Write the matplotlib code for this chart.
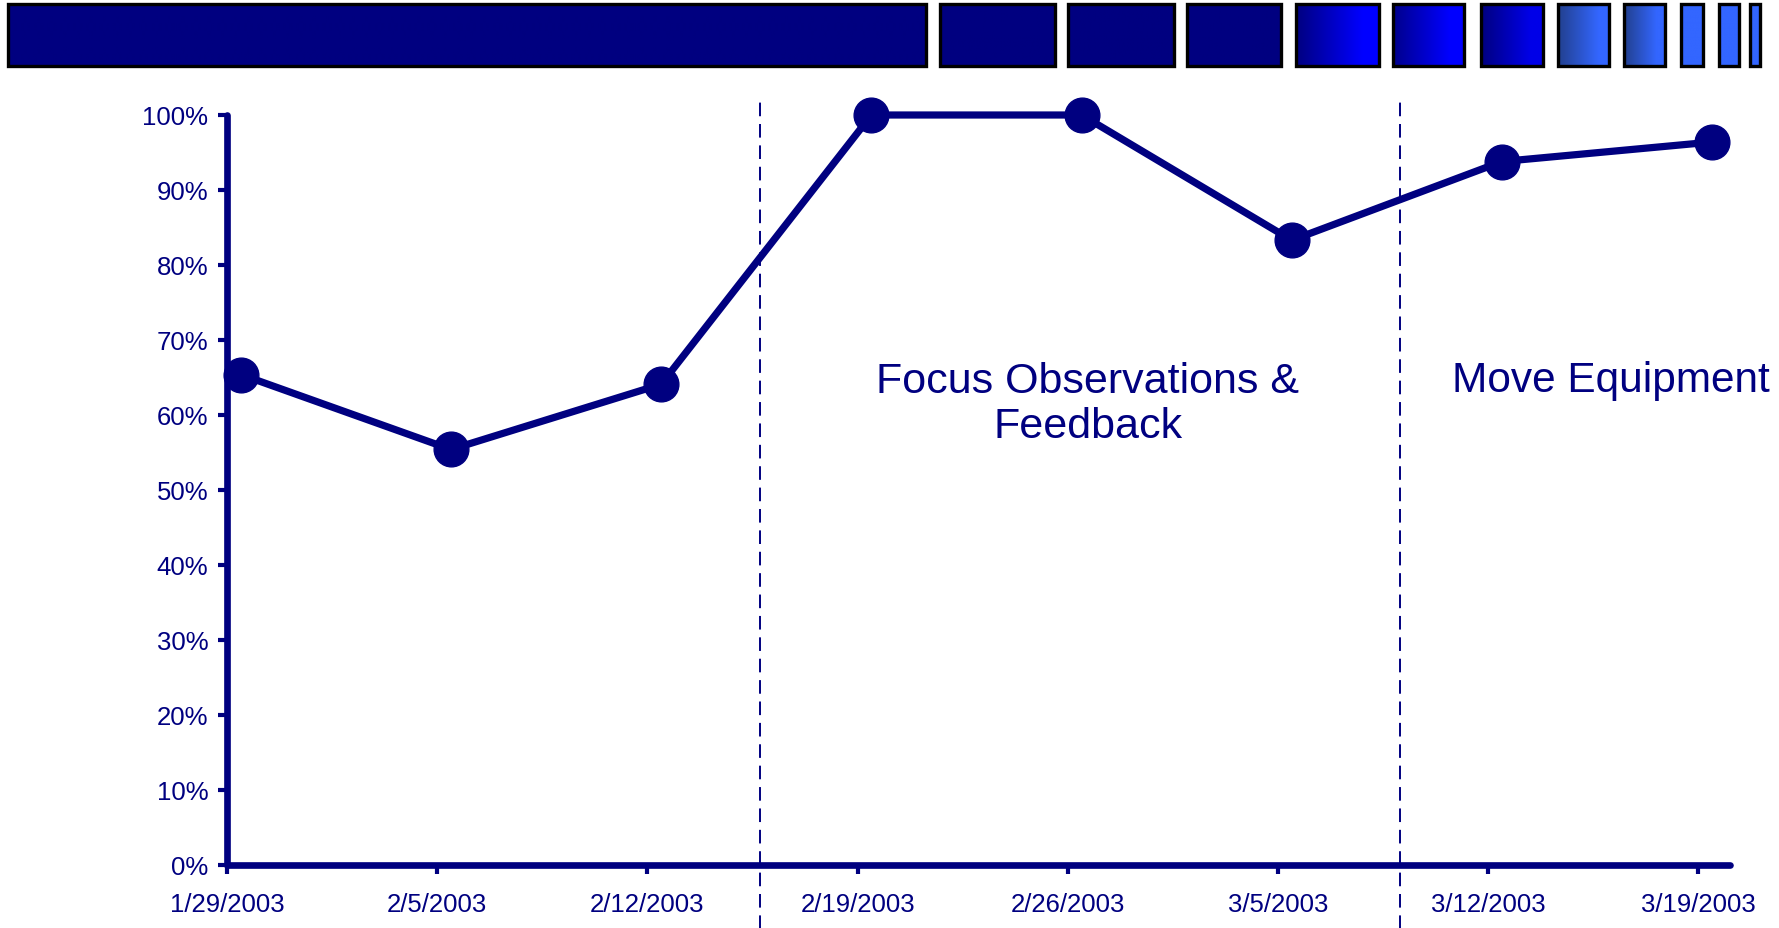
import numpy as np
import pandas as pd
import matplotlib
matplotlib.use("Agg")
import matplotlib.pyplot as plt
from matplotlib.patches import Rectangle
from matplotlib.colors import to_rgb

plt.rcParams['font.family'] = ['Liberation Sans', 'DejaVu Sans']

# weekly observation dates and % compliance
week_dates = ["1/29/2003", "2/5/2003", "2/12/2003", "2/19/2003",
              "2/26/2003", "3/5/2003", "3/12/2003", "3/19/2003"]
compliance = [0.654, 0.554, 0.641, 1.0, 1.0, 0.833, 0.938, 0.964]
obs_hour = 11  # points sit slightly right of the date ticks

# interventions
phase_starts = ["2003-02-15 18:00", "2003-03-09 01:30"]
phase_labels = ["Focus Observations &\nFeedback", "Move Equipment"]

y_ticks = [0, 0.1, 0.2, 0.3, 0.4, 0.5, 0.6, 0.7, 0.8, 0.9, 1.0]

NAVY = "#000080"
W, H = 1779, 929

base = pd.Timestamp("2003-01-29")
tick_x = ((pd.to_datetime(week_dates, format="%m/%d/%Y") - base) / pd.Timedelta(days=1)).to_numpy()
pt_x = tick_x + obs_hour / 24
phase_x = ((pd.to_datetime(phase_starts) - base) / pd.Timedelta(days=1)).to_numpy()

fig = plt.figure(figsize=(W / 100, H / 100), dpi=100)

# ---- banner of boxes at the top
bx = fig.add_axes([0, 0, 1, 1], zorder=-1)
bx.axis("off")
boxes = [(8, 926, NAVY, NAVY), (940, 1055, NAVY, NAVY), (1068, 1174, NAVY, NAVY),
         (1187, 1281, NAVY, NAVY), (1296, 1379, NAVY, "#0000ff"),
         (1393, 1464, "#00008c", "#0000ff"), (1481, 1543, NAVY, "#0000e8"),
         (1558, 1609, "#22408e", "#3366ff"), (1624, 1665, "#22408e", "#3366ff"),
         (1681, 1703, "#3366ff", "#3366ff"), (1719, 1739, "#3366ff", "#3366ff"),
         (1750, 1760, "#3366ff", "#3366ff")]
by0, by1 = 5, 67
t = np.clip(np.linspace(0, 1, 128) / 0.8, 0, 1)
for x0, x1, c0, c1 in boxes:
    a, b = np.array(to_rgb(c0)), np.array(to_rgb(c1))
    grad = (a[None, :] * (1 - t[:, None]) + b[None, :] * t[:, None])[None, :, :]
    bx.imshow(grad, extent=(x0, x1, by1, by0), aspect="auto", interpolation="bilinear")
    bx.add_patch(Rectangle((x0, by0), x1 - x0, by1 - by0, fill=False,
                           edgecolor="black", linewidth=2.4))
bx.set_xlim(0, W)
bx.set_ylim(H, 0)

# ---- main chart
ax = fig.add_axes([227 / W, 63 / H, (1730 - 227) / W, 750 / H])
ax.set_xlim(0, 50.05)
ax.set_ylim(0, 1)

for x in phase_x:
    ax.plot([x, x], [-0.09, 1.018], color=NAVY, lw=1.4, ls=(0, (7, 4)),
            clip_on=False, zorder=1)

ax.plot(pt_x, compliance, color=NAVY, lw=5.2, marker="o", markersize=25,
        clip_on=False, zorder=3, solid_capstyle="round")

# multi-line text: baseline refers to the last line here
ax.text(28.67, 0.571, phase_labels[0], color=NAVY, fontsize=31,
        ha="center", va="baseline", multialignment="center", linespacing=1.15)
ax.text(46.09, 0.632, phase_labels[1], color=NAVY, fontsize=30.5,
        ha="center", va="baseline")

for s in ["top", "right"]:
    ax.spines[s].set_visible(False)
for s in ["left", "bottom"]:
    ax.spines[s].set_color(NAVY)
    ax.spines[s].set_linewidth(4.8)
    ax.spines[s].set_capstyle("round")

ax.set_xticks(tick_x)
ax.set_xticklabels(week_dates)
ax.set_yticks(y_ticks)
ax.set_yticklabels([f"{int(round(v * 100))}%" for v in y_ticks])
ax.tick_params(axis="both", colors=NAVY, labelcolor=NAVY, labelsize=18.5,
               width=3, length=6.5, direction="out")
ax.tick_params(axis="x", pad=13)
ax.tick_params(axis="y", pad=7)
ax.set_facecolor("none")

fig.savefig("out.png", dpi=100)
